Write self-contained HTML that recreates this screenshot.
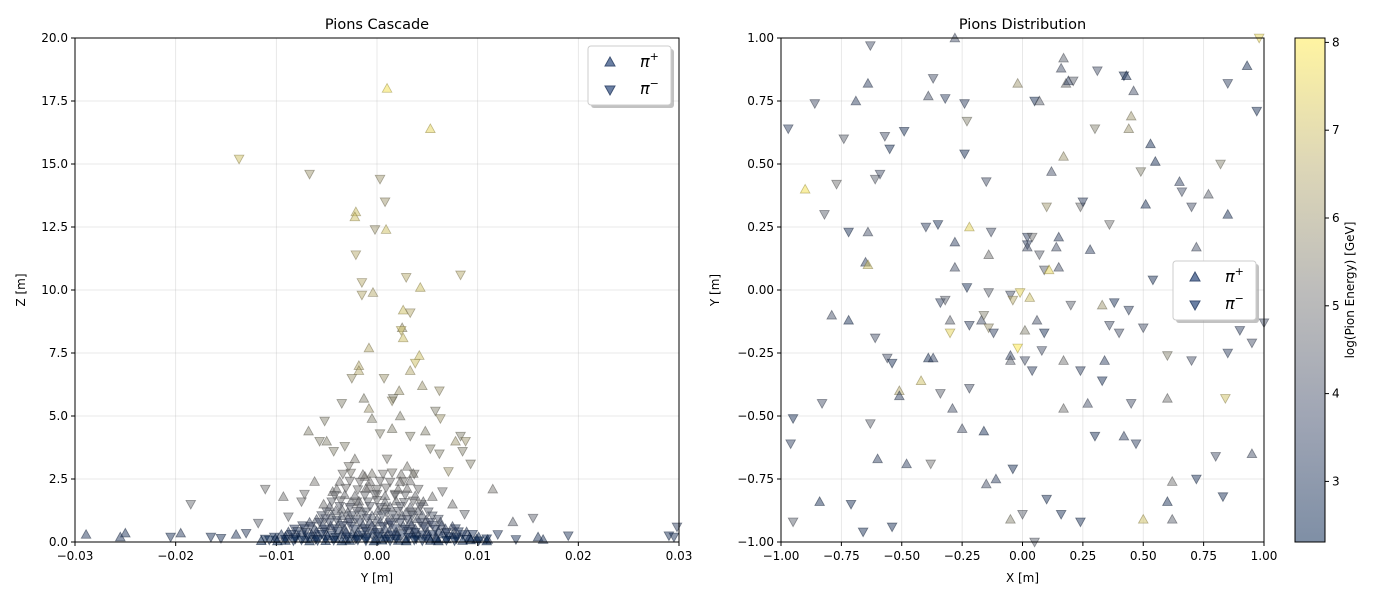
<!DOCTYPE html>
<html><head><meta charset="utf-8">
<style>
html,body{margin:0;padding:0;background:#fff;}
svg text{font-family:"DejaVu Sans","Liberation Sans",sans-serif;}
</style></head>
<body>
<svg id="fig" width="1400" height="600" xmlns="http://www.w3.org/2000/svg">
<defs>
<linearGradient id="cbar" x1="0" y1="1" x2="0" y2="0">
<stop offset="0" stop-color="#00204d"/><stop offset="0.25" stop-color="#414d6b"/><stop offset="0.5" stop-color="#7c7b78"/><stop offset="0.75" stop-color="#bcaf6f"/><stop offset="1" stop-color="#ffe945"/>
</linearGradient>
</defs>
<g id="left"></g>
<g id="right"></g>
<g id="cb"></g>
</svg>
<script>
// ---- data: left (Y [m], Z [m], log energy, type) ----
const cascY=[0.001,0.0053,-0.0137,-0.0067,0.0003,0.0008,-0.0021,-0.0022,0.0009,-0.0002,-0.0021,-0.0015,0.0029,0.0083,0.0043,-0.0015,-0.0004,0.0026,0.0033,0.0025,0.0024,0.0026,-0.0018,-0.0008,0.0042,0.0038,0.0033,-0.0025,-0.0018,0.0007,0.0022,0.0045,0.0062,-0.0035,-0.0013,0.0015,0.0016,-0.0008,-0.0005,0.0023,0.0048,0.0058,0.0063,-0.0068,-0.0057,-0.005,-0.0052,0.0078,0.0083,0.0088,0.0085,0.0093,0.0071,0.0115,-0.0093,-0.0111,-0.0185,0.0062,0.0053,-0.0043,-0.0032,-0.0028,-0.0022,0.001,0.003,0.0033,0.0015,0.0003,0.0037,-0.0062,-0.0072,-0.0075,0.0065,0.0055,0.0075,0.0087,-0.0088,-0.0053,-0.0044,0.0026,-0.0012,-0.0008,0.0018,0.0044,-0.0035,-0.002,0.0,0.0008,0.0035,0.0135,0.0155,-0.0118,
-0.0289,-0.025,-0.0255,-0.0205,-0.0195,-0.0165,-0.0155,-0.014,-0.013,0.019,0.016,0.0165,0.0295,0.0298,0.029,0.0138,0.012,0.011];
const cascZ=[18.0,16.4,15.2,14.6,14.4,13.5,13.1,12.9,12.4,12.4,11.4,10.3,10.5,10.6,10.1,9.8,9.9,9.2,9.1,8.5,8.4,8.1,7.0,7.7,7.4,7.1,6.8,6.5,6.8,6.5,6.0,6.2,6.0,5.5,5.7,5.6,5.7,5.3,4.9,5.0,4.4,5.2,4.9,4.4,4.0,4.0,4.8,4.0,4.2,4.0,3.6,3.1,2.8,2.1,1.8,2.1,1.5,3.5,3.7,3.6,3.8,3.0,3.3,3.3,3.0,4.2,4.5,4.3,2.7,2.4,1.9,1.6,2.0,1.8,1.5,1.1,1.0,1.5,2.0,2.4,2.6,2.2,1.9,1.5,1.3,1.6,1.9,1.4,1.2,0.8,0.95,0.75,
0.3,0.35,0.2,0.2,0.35,0.2,0.15,0.3,0.35,0.25,0.2,0.1,0.2,0.6,0.25,0.1,0.3,0.1];
const cascE=[7.8,7.5,7,6,6,6,7,7,7,6,6.5,6.5,6.5,6.5,7,6.5,6.5,7,6.5,6,7,7,6.5,6.5,7,7,6.5,6,6.5,6,6,6,6,5.5,5.5,6,5.5,6,5.5,5.5,5.5,5.5,6,5.5,5.5,5.5,5.5,6,5.5,6,5.5,5.5,6,5.2,5,5,4.8,5.5,5.5,5.5,5.5,5.3,5.3,5.3,5.3,5.5,5.5,5.5,5.3,5.2,5,5,5,5,5,4.8,4.8,5,5,5.2,5.2,5.1,5,5,4.8,4.9,5,4.9,4.8,4.5,4.6,4.5,
3.2,3,3.2,3,3.3,3,3,3.2,3.3,3.2,3,3,3,3.5,3,3,3.2,3];
const cascT="uudddduuuddddduduududuuuudududuuddudduuuuddudududdddduudddddddudududduddduudduuduudduddududdu"+"uududdudduuddddduu";
// dense low-altitude core of the cascade
const coreY=[-0.0115,-0.0107,-0.0099,-0.0091,-0.0083,-0.0075,-0.0067,-0.0059,-0.0051,-0.0043,-0.0035,-0.0027,-0.0019,-0.0011,-0.0003,0.0005,0.0013,0.0021,0.0029,0.0037,0.0045,0.0053,0.0061,0.0069,0.0077,0.0085,0.0093,0.0101,0.0109,
-0.0102,-0.0091,-0.0081,-0.0069,-0.0061,-0.0049,-0.0041,-0.003,-0.0021,-0.001,0.0001,0.0009,0.002,0.0031,0.0039,0.0051,0.0059,0.0071,0.0079,0.0092,0.0101,
-0.0088,-0.0079,-0.0071,-0.006,-0.0052,-0.0039,-0.0031,-0.0019,-0.0011,0.0,0.0012,0.0019,0.0031,0.0038,0.005,0.0061,0.0069,0.0081,0.0089,
-0.0074,-0.0066,-0.0054,-0.0046,-0.0034,-0.0026,-0.0014,-0.0005,0.0006,0.0014,0.0026,0.0034,0.0046,0.0055,0.0064,0.0075,
-0.006,-0.0051,-0.004,-0.0029,-0.0021,-0.001,0.0,0.0011,0.0019,0.003,0.004,0.0049,0.0061,
-0.005,-0.0041,-0.0029,-0.002,-0.0011,0.0001,0.0009,0.0021,0.0029,0.0041,0.0051,
-0.0045,-0.0036,-0.0026,-0.0018,-0.0009,0.0,0.0008,0.0019,0.0027,0.0036,0.0046,
-0.004,-0.0031,-0.0019,-0.0011,0.0,0.0009,0.0021,0.003,0.0041,
-0.0034,-0.0026,-0.0014,-0.0005,0.0006,0.0015,0.0024,0.0036,
-0.0111,-0.0101,-0.0091,-0.0081,-0.0071,-0.0061,-0.0051,-0.0041,-0.0031,-0.0021,-0.0011,-0.0001,0.0009,0.0019,0.0029,0.0039,0.0049,0.0059,0.0069,0.0079,0.0089,0.0099,0.0109,
-0.0095,-0.0085,-0.0075,-0.0065,-0.0055,-0.0045,-0.0035,-0.0025,-0.0015,-0.0005,0.0005,0.0015,0.0025,0.0035,0.0045,0.0055,0.0065,0.0075,0.0085,0.0095,
-0.0082,-0.0072,-0.0062,-0.0052,-0.0042,-0.0032,-0.0022,-0.0012,-0.0002,0.0008,0.0018,0.0028,0.0038,0.0048,0.0058,0.0068,0.0078,
-0.0067,-0.0057,-0.0047,-0.0037,-0.0027,-0.0017,-0.0007,0.0003,0.0013,0.0023,0.0033,0.0043,0.0053,0.0063,
-0.0055,-0.0045,-0.0035,-0.0025,-0.0015,-0.0005,0.0005,0.0015,0.0025,0.0035,0.0045,0.0055,
-0.0047,-0.0037,-0.0027,-0.0017,-0.0007,0.0003,0.0013,0.0023,0.0033,0.0043,
-0.0042,-0.0032,-0.0022,-0.0012,-0.0002,0.0008,0.0018,0.0028,0.0038,
-0.0037,-0.0027,-0.0017,-0.0007,0.0003,0.0013,0.0023,0.0033];
const coreZ=[0.05,0.08,0.04,0.06,0.05,0.08,0.04,0.06,0.05,0.07,0.04,0.06,0.08,0.05,0.04,0.07,0.05,0.06,0.04,0.08,0.05,0.06,0.04,0.07,0.05,0.06,0.08,0.05,0.04,
0.2,0.22,0.18,0.21,0.2,0.23,0.19,0.2,0.22,0.18,0.21,0.2,0.23,0.19,0.2,0.22,0.18,0.21,0.2,0.19,0.2,
0.4,0.42,0.38,0.41,0.4,0.43,0.39,0.4,0.42,0.38,0.41,0.4,0.43,0.39,0.4,0.42,0.38,0.41,0.4,
0.65,0.62,0.68,0.64,0.66,0.63,0.67,0.65,0.62,0.68,0.64,0.66,0.63,0.67,0.65,0.62,
0.9,0.93,0.88,0.92,0.89,0.94,0.9,0.87,0.93,0.9,0.92,0.88,0.91,
1.2,1.24,1.18,1.22,1.2,1.25,1.19,1.22,1.18,1.23,1.2,
1.6,1.64,1.58,1.62,1.6,1.65,1.59,1.62,1.58,1.63,1.6,
2.1,2.14,2.08,2.12,2.1,2.15,2.09,2.12,2.1,
2.7,2.74,2.68,2.72,2.7,2.75,2.69,2.72,
0.12,0.13,0.11,0.12,0.13,0.11,0.12,0.13,0.11,0.12,0.13,0.11,0.12,0.13,0.11,0.12,0.13,0.11,0.12,0.13,0.11,0.12,0.13,
0.3,0.31,0.29,0.3,0.31,0.29,0.3,0.31,0.29,0.3,0.31,0.29,0.3,0.31,0.29,0.3,0.31,0.29,0.3,0.31,
0.52,0.53,0.51,0.52,0.53,0.51,0.52,0.53,0.51,0.52,0.53,0.51,0.52,0.53,0.51,0.52,0.53,
0.78,0.79,0.77,0.78,0.79,0.77,0.78,0.79,0.77,0.78,0.79,0.77,0.78,0.79,
1.05,1.06,1.04,1.05,1.06,1.04,1.05,1.06,1.04,1.05,1.06,1.04,
1.4,1.42,1.38,1.4,1.42,1.38,1.4,1.42,1.38,1.4,
1.85,1.87,1.83,1.85,1.87,1.83,1.85,1.87,1.83,
2.4,2.42,2.38,2.4,2.42,2.38,2.4,2.42];
const coreE=[2.35,2.4,2.35,2.4,2.35,2.4,2.35,2.4,2.35,2.4,2.35,2.4,2.35,2.4,2.35,2.4,2.35,2.4,2.35,2.4,2.35,2.4,2.35,2.4,2.35,2.4,2.35,2.4,2.35,
2.8,2.7,2.8,2.7,2.8,2.7,2.8,2.7,2.8,2.7,2.8,2.7,2.8,2.7,2.8,2.7,2.8,2.7,2.8,2.7,2.8,
3.3,3.2,3.3,3.2,3.3,3.2,3.3,3.2,3.3,3.2,3.3,3.2,3.3,3.2,3.3,3.2,3.3,3.2,3.3,
3.8,3.7,3.8,3.7,3.8,3.7,3.8,3.7,3.8,3.7,3.8,3.7,3.8,3.7,3.8,3.7,
4.2,4.1,4.2,4.1,4.2,4.1,4.2,4.1,4.2,4.1,4.2,4.1,4.2,
4.5,4.6,4.5,4.6,4.5,4.6,4.5,4.6,4.5,4.6,4.5,
4.8,4.9,4.8,4.9,4.8,4.9,4.8,4.9,4.8,4.9,4.8,
5.0,5.1,5.0,5.1,5.0,5.1,5.0,5.1,5.0,
5.2,5.3,5.2,5.3,5.2,5.3,5.2,5.3,
2.5,2.5,2.5,2.5,2.5,2.5,2.5,2.5,2.5,2.5,2.5,2.5,2.5,2.5,2.5,2.5,2.5,2.5,2.5,2.5,2.5,2.5,2.5,
3.0,3.0,3.0,3.0,3.0,3.0,3.0,3.0,3.0,3.0,3.0,3.0,3.0,3.0,3.0,3.0,3.0,3.0,3.0,3.0,
3.4,3.4,3.4,3.4,3.4,3.4,3.4,3.4,3.4,3.4,3.4,3.4,3.4,3.4,3.4,3.4,3.4,
3.9,3.9,3.9,3.9,3.9,3.9,3.9,3.9,3.9,3.9,3.9,3.9,3.9,3.9,
4.3,4.3,4.3,4.3,4.3,4.3,4.3,4.3,4.3,4.3,4.3,4.3,
4.6,4.6,4.6,4.6,4.6,4.6,4.6,4.6,4.6,4.6,
4.9,4.9,4.9,4.9,4.9,4.9,4.9,4.9,4.9,
5.1,5.1,5.1,5.1,5.1,5.1,5.1,5.1];
const coreT="uduuddududuudduuduudduudduudu"+"dudduuddudduudduudduu"+"uddudduudduudduuddu"+"dduudduudduudduu"+"uddudduudduud"+"duuddudduud"+"dduudduuddu"+"uddudduud"+"dduudduu"+
"duddudduudduddudduuddud"+"uddudduudduddudduudd"+"dduddudduudduddud"+"uddudduudduddu"+"duudduddudud"+"udduddudud"+"duudduddu"+"uddudduu";

// ---- data: right (X [m], Y [m], log energy, type) ----
const distX=[-0.97,-0.63,-0.64,-0.69,-0.86,-0.57,-0.49,-0.55,-0.74,-0.77,-0.61,-0.59,-0.28,-0.37,-0.32,-0.39,-0.24,-0.23,-0.24,-0.15,-0.02,0.05,0.07,0.17,0.16,0.18,0.19,0.21,0.31,0.42,0.43,0.46,0.45,0.44,0.30,0.17,0.12,0.53,0.55,0.49,0.65,0.66,0.70,0.77,0.82,0.85,0.93,0.98,0.97,0.85,0.72,0.51,-0.82,-0.72,-0.64,-0.65,-0.64,-0.40,-0.35,-0.22,-0.28,-0.28,-0.23,-0.13,-0.14,0.02,0.04,0.02,0.02,0.07,0.10,0.14,0.15,0.24,0.25,0.28,0.36,0.15,0.09,0.11,-0.90,-0.79,-0.72,-0.61,-0.56,-0.54,-0.51,-0.51,-0.42,-0.34,-0.32,-0.30,-0.30,-0.39,-0.37,-0.34,-0.29,-0.25,-0.22,-0.22,-0.17,-0.16,-0.14,-0.12,-0.14,-0.05,-0.04,-0.01,0.03,0.06,-0.05,-0.05,0.01,0.04,-0.02,0.01,0.09,0.08,0.17,0.17,0.20,0.24,0.33,0.34,0.33,0.36,0.38,0.40,0.44,0.45,0.50,0.54,0.27,0.30,0.42,0.47,0.60,0.60,0.70,0.85,0.90,0.95,0.80,0.84,0.95,0.62,0.62,0.50,0.60,0.72,0.83,0.24,0.16,0.10,0.00,-0.04,-0.05,0.05,-0.11,-0.15,-0.16,-0.38,-0.48,-0.60,-0.63,-0.54,-0.66,-0.71,-0.84,-0.83,-0.95,-0.96,-0.95,1.0];
const distY=[0.64,0.97,0.82,0.75,0.74,0.61,0.63,0.56,0.60,0.42,0.44,0.46,1.0,0.84,0.76,0.77,0.74,0.67,0.54,0.43,0.82,0.75,0.75,0.92,0.88,0.82,0.83,0.83,0.87,0.85,0.85,0.79,0.69,0.64,0.64,0.53,0.47,0.58,0.51,0.47,0.43,0.39,0.33,0.38,0.50,0.82,0.89,1.0,0.71,0.30,0.17,0.34,0.30,0.23,0.23,0.11,0.10,0.25,0.26,0.25,0.19,0.09,0.01,0.23,0.14,0.21,0.21,0.18,0.17,0.14,0.33,0.17,0.21,0.33,0.35,0.16,0.26,0.09,0.08,0.08,0.40,-0.10,-0.12,-0.19,-0.27,-0.29,-0.40,-0.42,-0.36,-0.05,-0.04,-0.12,-0.17,-0.27,-0.27,-0.41,-0.47,-0.55,-0.39,-0.14,-0.12,-0.10,-0.15,-0.17,-0.01,-0.02,-0.04,-0.01,-0.03,-0.12,-0.26,-0.28,-0.28,-0.32,-0.23,-0.16,-0.17,-0.24,-0.28,-0.47,-0.06,-0.32,-0.06,-0.28,-0.36,-0.14,-0.05,-0.17,-0.08,-0.45,-0.15,0.04,-0.45,-0.58,-0.58,-0.61,-0.26,-0.43,-0.28,-0.25,-0.16,-0.21,-0.66,-0.43,-0.65,-0.76,-0.91,-0.91,-0.84,-0.75,-0.82,-0.92,-0.89,-0.83,-0.89,-0.71,-0.91,-1.0,-0.75,-0.77,-0.56,-0.69,-0.69,-0.67,-0.53,-0.94,-0.96,-0.85,-0.84,-0.45,-0.51,-0.61,-0.92,-0.13];
const distE=[3.5,4,3.5,3.5,4,4,3,3,4.5,5,4.5,4,4,4,3.5,4,3.5,5.5,3,4,6,3,4.5,4.5,4,5,3.5,4.5,4,3,3,4,6,6,5.5,6,4,3,3,5.5,3.5,4,4,4.5,5.5,3.5,3,7.5,3,3,4,3,4.5,3,4,3.5,7,3.5,3,7.5,3.5,4,3,4,5,3.5,5,3.5,4,4.5,6,4,3.5,5,3.5,3.5,5,4,4.5,7.5,7.8,4,3,4,4,3,6.5,3.5,7,3.5,4.5,4.5,7.5,3,3.5,4.5,4,4,4,3.5,4,5.5,6,3.5,4.5,4,6.5,7.5,7,4,3.5,4.5,4,3.5,8,5.5,3,4,5,5,4.5,3.5,6,3.5,3,4,3,4,3.5,4,4,3,4,3,3.5,3.5,5.5,5,4,3.5,3.5,4,4,7,4,5,4.5,7,3,3,3,3,3,3,4.5,3,5.5,4.5,3.5,4,3,5,3.5,3.5,4.5,3,3,3,3,4,3,3.5,4.5,4];
const distT="dduudddddddduddudddduduuuuuddduuuuduuuududduddudduuudduuudduuuddudddudduuddududuuuuddduuudduduuduudduddddddduuuudddudduudduuddddddddududdudddddduuuuuddddddduduuuduudddduddd";

const cbTicks=[3,4,5,6,7,8];
const leftXTicks=[-0.03,-0.02,-0.01,0.0,0.01,0.02,0.03];
const leftYTicks=[0,2.5,5,7.5,10,12.5,15,17.5,20];
const rightTicks=[-1,-0.75,-0.5,-0.25,0,0.25,0.5,0.75,1];

const NS="http://www.w3.org/2000/svg";
const EMIN=2.31,EMAX=8.05;
function mk(tag,attrs,parent,txt){const e=document.createElementNS(NS,tag);for(const k in attrs)e.setAttribute(k,attrs[k]);if(txt!==undefined)e.textContent=txt;parent.appendChild(e);return e;}
const stops=[[0,[0,32,77]],[0.25,[65,77,107]],[0.5,[124,123,120]],[0.75,[188,175,111]],[1,[255,233,69]]];
function cmap(e){let t=Math.max(0,Math.min(1,(e-EMIN)/(EMAX-EMIN)));for(let i=0;i<stops.length-1;i++){const a=stops[i],b=stops[i+1];if(t<=b[0]){const f=(t-a[0])/(b[0]-a[0]);return a[1].map((v,j)=>Math.round(v+(b[1][j]-v)*f));}}return stops[4][1];}
function tri(g,cx,cy,type,e){const s=4.8;const c=cmap(e);const col=`rgb(${c[0]},${c[1]},${c[2]})`;const dark=`rgb(${c[0]*0.6|0},${c[1]*0.6|0},${c[2]*0.6|0})`;
let pts=type==='u'?`${cx},${cy-s} ${cx+s},${cy+s*0.8} ${cx-s},${cy+s*0.8}`:`${cx},${cy+s} ${cx+s},${cy-s*0.8} ${cx-s},${cy-s*0.8}`;
const p=mk('polygon',{points:pts,fill:col,stroke:dark,'stroke-width':0.8,'fill-opacity':0.5,'stroke-opacity':0.5},g);

}
function fmt(v,d){return v.toFixed(d).replace('-','−');}

function axes(g,X0,X1,Y0,Y1,xs,ys,xt,yt,xd,yd,title,xl,yl,ylx){
 mk('rect',{x:X0,y:Y0,width:X1-X0,height:Y1-Y0,fill:'#fff'},g);
 const grid=mk('g',{stroke:'#b0b0b0','stroke-opacity':0.35,'stroke-width':0.8},g);
 xt.forEach(v=>{const x=xs(v);mk('line',{x1:x,x2:x,y1:Y0,y2:Y1},grid);});
 yt.forEach(v=>{const y=ys(v);mk('line',{x1:X0,x2:X1,y1:y,y2:y},grid);});
 const tk=mk('g',{'font-size':12,fill:'#000'},g);
 xt.forEach(v=>{const x=xs(v);mk('line',{x1:x,x2:x,y1:Y1,y2:Y1+4,stroke:'#000'},tk);mk('text',{x:x,y:Y1+18,'text-anchor':'middle'},tk,fmt(v,xd));});
 yt.forEach(v=>{const y=ys(v);mk('line',{x1:X0-4,x2:X0,y1:y,y2:y,stroke:'#000'},tk);mk('text',{x:X0-7,y:y+4,'text-anchor':'end'},tk,fmt(v,yd));});
 mk('text',{x:(X0+X1)/2,y:Y0-9,'text-anchor':'middle','font-size':14.5,},g,title);
 mk('text',{x:(X0+X1)/2,y:Y1+40,'text-anchor':'middle','font-size':12,},g,xl);
 mk('text',{x:ylx,y:(Y0+Y1)/2,'text-anchor':'middle','font-size':12,transform:`rotate(-90 ${ylx} ${(Y0+Y1)/2})`,},g,yl);
}
function frame(g,X0,X1,Y0,Y1){mk('rect',{x:X0,y:Y0,width:X1-X0,height:Y1-Y0,fill:'none',stroke:'#000','stroke-width':1,},g);}
function legend(g,x,y){const L=mk('g',{},g);
 mk('rect',{x:x+3,y:y+3,width:83,height:59,rx:3,fill:'#999','fill-opacity':0.6},L);
 mk('rect',{x:x,y:y,width:83,height:59,rx:3,fill:'#fff',stroke:'#ccc'},L);
 mk('polygon',{points:`${x+22},${y+11} ${x+27},${y+20} ${x+17},${y+20}`,fill:'#6a7fa3',stroke:'#3f5274',},L);
 mk('polygon',{points:`${x+22},${y+49} ${x+27},${y+40} ${x+17},${y+40}`,fill:'#6a7fa3',stroke:'#3f5274',},L);
 const t1=mk('text',{x:x+52,y:y+21,'font-size':16,'font-style':'italic',},L,'π');mk('tspan',{dy:-7,'font-size':11,'font-style':'normal'},t1,'+');
 const t2=mk('text',{x:x+52,y:y+48,'font-size':16,'font-style':'italic',},L,'π');mk('tspan',{dy:-7,'font-size':11,'font-style':'normal'},t2,'−');
}

// left
(function(){const g=document.getElementById('left');const X0=75,X1=679,Y0=38,Y1=542;
 const xs=v=>X0+(v+0.03)/0.06*(X1-X0), ys=v=>Y1-v/20*(Y1-Y0);
 axes(g,X0,X1,Y0,Y1,xs,ys,leftXTicks,leftYTicks,2,1,'Pions Cascade','Y [m]','Z [m]',25);
 const pg=mk('g',{},g);
 cascY.forEach((v,i)=>tri(pg,xs(v),ys(cascZ[i]),cascT[i]||'u',cascE[i]));
 // draw core ordered by altitude (high first) so low, dark points sit on top
 const order=coreY.map((_,i)=>i).sort((a,b)=>coreZ[b]-coreZ[a]);
 order.forEach(i=>tri(pg,xs(coreY[i]),ys(coreZ[i]),coreT[i]||'u',coreE[i]));
 frame(g,X0,X1,Y0,Y1);legend(g,588,46);})();
// right
(function(){const g=document.getElementById('right');const X0=781,X1=1264,Y0=38,Y1=542;
 const xs=v=>X0+(v+1)/2*(X1-X0), ys=v=>Y1-(v+1)/2*(Y1-Y0);
 axes(g,X0,X1,Y0,Y1,xs,ys,rightTicks,rightTicks,2,2,'Pions Distribution','X [m]','Y [m]',719);
 const pg=mk('g',{},g);
 distX.forEach((v,i)=>tri(pg,xs(v),ys(distY[i]),distT[i]||'d',distE[i]));
 frame(g,X0,X1,Y0,Y1);legend(g,1173,261);})();
// colorbar
(function(){const g=document.getElementById('cb');const X0=1295,X1=1325,Y0=38,Y1=542;
 const ys=v=>Y1-(v-EMIN)/(EMAX-EMIN)*(Y1-Y0);
 mk('rect',{x:X0,y:Y0,width:X1-X0,height:Y1-Y0,fill:'url(#cbar)','fill-opacity':0.5,},g);
 mk('rect',{x:X0,y:Y0,width:X1-X0,height:Y1-Y0,fill:'none',stroke:'#000'},g);
 cbTicks.forEach(v=>{const y=ys(v);mk('line',{x1:X1,x2:X1+4,y1:y,y2:y,stroke:'#000'},g);mk('text',{x:X1+7,y:y+4,'font-size':12},g,String(v));});
 mk('text',{x:1354,y:290,'text-anchor':'middle','font-size':12,transform:'rotate(-90 1354 290)',},g,'log(Pion Energy) [GeV]');})();
</script>
</body></html>
